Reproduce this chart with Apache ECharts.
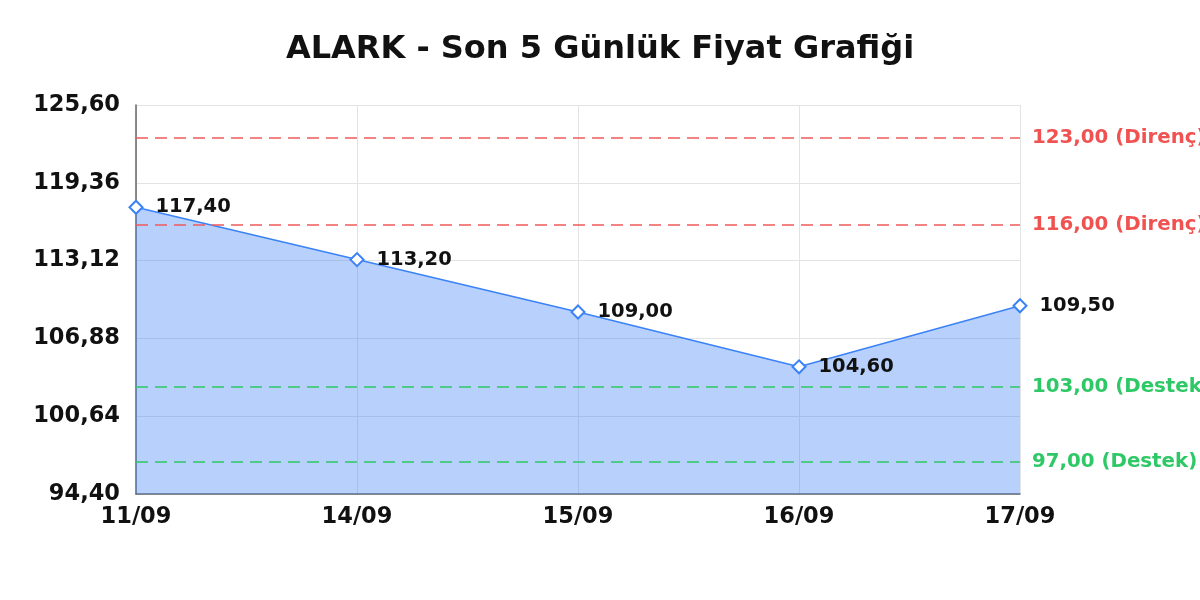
<!DOCTYPE html>
<html>
<head>
<meta charset="utf-8">
<script src="https://cdn.jsdelivr.net/npm/echarts@6/dist/echarts.min.js"></script>
<style>
html, body { margin: 0; padding: 0; background: #fff; }
#chartDiv { width: 1200px; height: 600px; }
</style>
</head>
<body>
<div id="chartDiv"></div>
<script>
var myChart = echarts.init(document.getElementById('chartDiv'));

var dates = ['11/09', '14/09', '15/09', '16/09', '17/09'];
var prices = [117.40, 113.20, 109.00, 104.60, 109.50];
var resistance = [123.00, 116.00];
var support = [103.00, 97.00];
var yMin = 94.40;
var yMax = 125.60;
var yStep = 6.24;

function fmt(v) {
    return v.toFixed(2).replace('.', ',');
}

var lines = [];
resistance.forEach(function (v) {
    lines.push({
        yAxis: v,
        name: fmt(v) + ' (Direnç)',
        lineStyle: { color: '#f05a5a', type: [12, 7], width: 1.5 },
        label: { color: '#f05252' }
    });
});
support.forEach(function (v) {
    lines.push({
        yAxis: v,
        name: fmt(v) + ' (Destek)',
        lineStyle: { color: '#2ec866', type: [12, 7], width: 1.5 },
        label: { color: '#2ec866' }
    });
});

var font = 'DejaVu Sans';

option = {
    backgroundColor: '#fff',
    animation: false,
    title: {
        text: 'ALARK - Son 5 Günlük Fiyat Grafiği',
        left: 'center',
        top: 29,
        textStyle: { fontFamily: font, fontSize: 32, fontWeight: 'bold', color: '#111' }
    },
    grid: { left: 136, right: 180, top: 105, bottom: 106, containLabel: false },
    xAxis: {
        type: 'category',
        data: dates,
        boundaryGap: false,
        axisLine: { show: true, lineStyle: { color: '#666', width: 1.5 } },
        axisTick: { show: false },
        axisLabel: {
            margin: 12,
            fontFamily: font, fontSize: 22.5, fontWeight: 'bold', color: '#111'
        },
        splitLine: { show: true, lineStyle: { color: '#e3e3e3' } }
    },
    yAxis: {
        type: 'value',
        min: yMin,
        max: yMax,
        interval: yStep,
        axisLine: { show: true, lineStyle: { color: '#666', width: 1.5 } },
        axisTick: { show: false },
        axisLabel: {
            margin: 16,
            fontFamily: font, fontSize: 22.5, fontWeight: 'bold', color: '#111',
            formatter: function (v) { return fmt(v); }
        },
        splitLine: { show: true, lineStyle: { color: '#e3e3e3' } }
    },
    series: [
        {
            name: 'Fiyat',
            type: 'line',
            data: prices,
            symbol: 'emptyDiamond',
            symbolSize: 13,
            lineStyle: { color: '#3b82f6', width: 1.5 },
            itemStyle: { color: '#3b82f6', borderWidth: 2.5 },
            areaStyle: { color: 'rgba(59,130,246,0.37)', opacity: 1 },
            label: {
                show: true,
                position: 'right',
                distance: 12,
                fontFamily: font, fontSize: 19.5, fontWeight: 'bold', color: '#111',
                formatter: function (p) { return fmt(p.value); }
            },
            markLine: {
                silent: true,
                symbol: 'none',
                label: {
                    position: 'end',
                    distance: 12,
                    fontFamily: font, fontSize: 19.8, fontWeight: 'bold',
                    formatter: function (p) { return p.name; }
                },
                data: lines
            }
        }
    ]
};
myChart.setOption(option);
</script>
</body>
</html>
